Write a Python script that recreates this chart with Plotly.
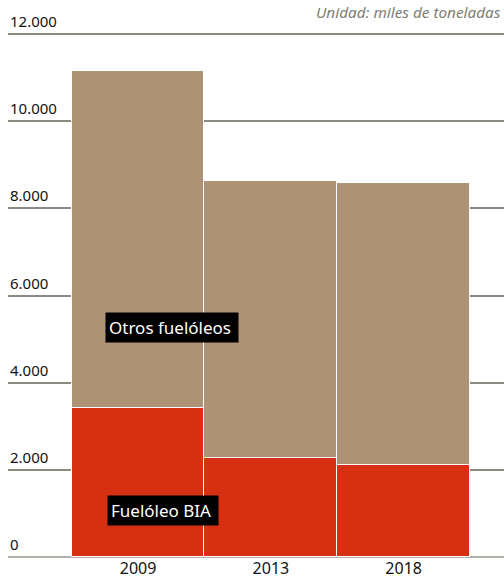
import plotly.graph_objects as go

years = ["2009", "2013", "2018"]
bia = [3430, 2280, 2100]
otros = [7730, 6350, 6480]
y_ticks = [0, 2000, 4000, 6000, 8000, 10000, 12000]
y_tick_labels = ["0", "2.000", "4.000", "6.000", "8.000", "10.000", "12.000"]

FONT = "Noto Sans"

fig = go.Figure()
fig.add_trace(go.Bar(x=years, y=bia, name="Fuelóleo BIA",
                     marker=dict(color="#d62f12", line=dict(color="white", width=1.5)),
                     hoverinfo="y"))
fig.add_trace(go.Bar(x=years, y=otros, name="Otros fuelóleos",
                     marker=dict(color="#ad9275", line=dict(color="white", width=1.5)),
                     hoverinfo="y"))

annotations = [
    dict(text=lab, xref="paper", yref="y", x=0, y=v, xanchor="left",
         yanchor="bottom", yshift=1, showarrow=False,
         font=dict(family=FONT, size=15, color="#111"))
    for v, lab in zip(y_ticks, y_tick_labels)
]
annotations += [
    dict(text="Unidad: miles de toneladas", xref="paper", yref="paper",
         x=(314 - 8) / 496, y=1.0, xanchor="left", yanchor="top", yshift=14,
         showarrow=False,
         font=dict(family=FONT, size=15.3, color="#7d7d72", style="italic")),
    dict(text="Otros fuelóleos ", x=-0.25, y=5266, xref="x", yref="y",
         xanchor="left", yanchor="middle", showarrow=False,
         bgcolor="black", borderpad=3,
         font=dict(family=FONT, size=17, color="white")),
    dict(text="Fuelóleo BIA ", x=-0.235, y=1067, xref="x", yref="y",
         xanchor="left", yanchor="middle", showarrow=False,
         bgcolor="black", borderpad=3,
         font=dict(family=FONT, size=17, color="white")),
]

fig.update_layout(
    width=504, height=578,
    barmode="stack", bargap=0,
    showlegend=False,
    plot_bgcolor="white", paper_bgcolor="white",
    margin=dict(l=8, r=0, t=14, b=21, autoexpand=False),
    font=dict(family=FONT, size=14, color="#222"),
    xaxis=dict(type="category", range=[-0.98, 2.756], showgrid=False,
               ticks="", showline=False, zeroline=False, automargin=False,
               tickfont=dict(family=FONT, size=16, color="#111")),
    yaxis=dict(range=[0, 12459], tickvals=y_ticks, showticklabels=False,
               showgrid=True, automargin=False,
               gridcolor="#8a8a7e", gridwidth=2, zeroline=True,
               zerolinecolor="#b0b0a8", zerolinewidth=1.5, showline=False),
    annotations=annotations,
)

fig.write_html(
    "out.html",
    config={"displayModeBar": False},
    post_script="document.body.style.margin='0';document.body.style.overflow='hidden';",
)
